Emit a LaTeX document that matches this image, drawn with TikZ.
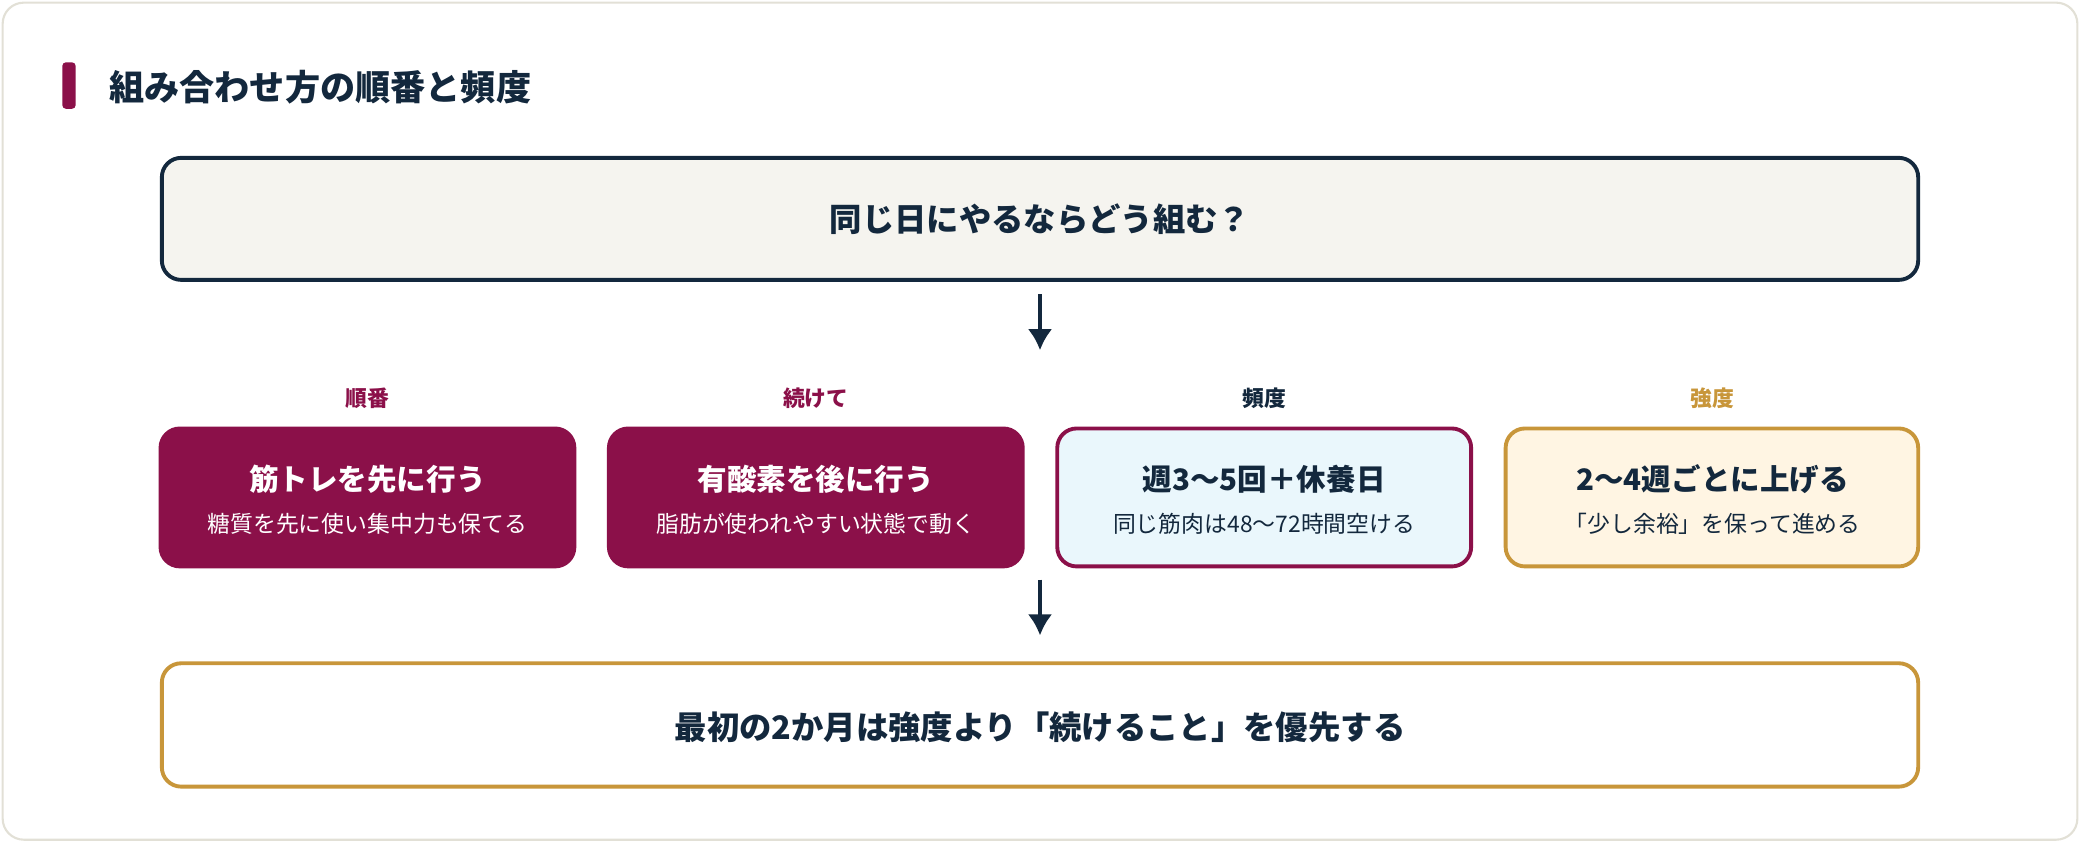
\documentclass[tikz,border=0pt]{standalone}
\usepackage{fontspec}
\usetikzlibrary{arrows.meta}
\setmainfont{Noto Sans CJK JP}
\definecolor{navy}{HTML}{13283D}
\definecolor{mag}{HTML}{8B1049}
\definecolor{gold}{HTML}{C8963A}
\definecolor{topfill}{HTML}{F5F4EF}
\definecolor{bluefill}{HTML}{EAF7FC}
\definecolor{creamfill}{HTML}{FFF5E3}
\definecolor{cardline}{HTML}{E2E0D6}
\begin{document}
\begin{tikzpicture}[x=0.013265cm,y=-0.013265cm,
  box/.style={rounded corners=5.5pt,line width=1.1pt,inner sep=0},
  big/.style={font=\fontsize{9.2pt}{11pt}\selectfont\bfseries,text=navy},
  ttl/.style={font=\fontsize{8.4pt}{10pt}\selectfont\bfseries},
  sub/.style={font=\fontsize{6.5pt}{8pt}\selectfont},
  lab/.style={font=\fontsize{6.2pt}{8pt}\selectfont\bfseries},
  arr/.style={line width=1.1pt,draw=navy,-{Latex[length=6pt,width=7pt]}}]
\useasboundingbox (0,0) rectangle (1568,635);
\draw[cardline,fill=white,rounded corners=6pt,line width=0.6pt] (2,2) rectangle (1566,633);
\fill[mag,rounded corners=1pt] (47,47) rectangle (57,82);
\node[anchor=west,font=\fontsize{10pt}{12pt}\selectfont\bfseries,text=navy] (title) at (73,66) {組み合わせ方の順番と頻度};
\draw[box,draw=navy,fill=topfill] (122,119) rectangle (1446,211);
\node[big] (q) at (784,165) {同じ日にやるならどう組む？};
\coordinate (a1s) at (784,222); \coordinate (a1e) at (784,264);
\draw[arr] (a1s) -- (a1e);
\node[lab,text=mag] (l1) at (277,300) {順番};
\node[lab,text=mag] (l2) at (615,300) {続けて};
\node[lab,text=navy] (l3) at (953,300) {頻度};
\node[lab,text=gold] (l4) at (1291,300) {強度};
\draw[box,draw=mag,fill=mag] (121,323) rectangle (433,427);
\draw[box,draw=mag,fill=mag] (459,323) rectangle (771,427);
\draw[box,draw=mag,fill=bluefill] (797,323) rectangle (1109,427);
\draw[box,draw=gold,fill=creamfill] (1135,323) rectangle (1446,427);
\node[ttl,text=white] (b1) at (277,361) {筋トレを先に行う};
\node[sub,text=white] (s1) at (277,395) {糖質を先に使い集中力も保てる};
\node[ttl,text=white] (b2) at (615,361) {有酸素を後に行う};
\node[sub,text=white] (s2) at (615,395) {脂肪が使われやすい状態で動く};
\node[ttl,text=navy] (b3) at (953,361) {週3〜5回＋休養日};
\node[sub,text=navy] (s3) at (953,395) {同じ筋肉は48〜72時間空ける};
\node[ttl,text=navy] (b4) at (1291,361) {2〜4週ごとに上げる};
\node[sub,text=navy] (s4) at (1291,395) {「少し余裕」を保って進める};
\coordinate (a2s) at (784,437); \coordinate (a2e) at (784,479);
\draw[arr] (a2s) -- (a2e);
\draw[box,draw=gold,fill=white] (122,500) rectangle (1446,593);
\node[big] (c) at (784,548) {最初の2か月は強度より「続けること」を優先する};
\end{tikzpicture}
\end{document}
